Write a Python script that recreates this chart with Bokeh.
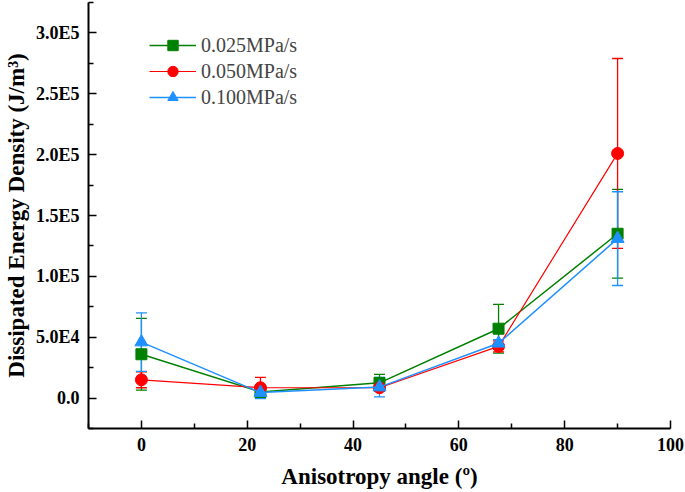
from bokeh.plotting import figure
from bokeh.models import ColumnDataSource, Whisker, TeeHead, FixedTicker, Legend, LegendItem, Range1d
from bokeh.embed import file_html
from bokeh.resources import INLINE

angles = [0, 22.5, 45, 67.5, 90]
series_names = ["0.025MPa/s", "0.050MPa/s", "0.100MPa/s"]
energy_025 = [36000, 5000, 12500, 57000, 135000]
err_025 = [29500, 2000, 7000, 20000, 36500]
energy_050 = [15000, 8500, 8500, 42500, 201000]
err_050 = [6500, 8500, 2000, 4500, 78000]
energy_100 = [46000, 4500, 9000, 45000, 131000]
err_100 = [24000, 5000, 8000, 3000, 38500]
colors = ["#008000", "#FF0000", "#1E90FF"]
markers = ["square", "circle", "triangle"]
marker_sizes = [11, 12, 13]
line_widths = [1.5, 1.2, 1.5]

x_ticks = [0, 20, 40, 60, 80, 100]
y_ticks = [0, 50000, 100000, 150000, 200000, 250000, 300000]
y_tick_labels = ["0.0", "5.0E4", "1.0E5", "1.5E5", "2.0E5", "2.5E5", "3.0E5"]

FONT = "Liberation Serif"

p = figure(width=685, height=492, output_backend="svg", toolbar_location=None,
           x_range=Range1d(-10, 100), y_range=Range1d(-25000, 325000),
           min_border_left=88, min_border_right=15, min_border_top=2, min_border_bottom=64)
p.outline_line_color = None
p.xgrid.visible = False
p.ygrid.visible = False
p.background_fill_color = "white"
p.border_fill_color = "white"

for ax in (p.xaxis[0], p.yaxis[0]):
    ax.axis_line_width = 2
    ax.axis_line_color = "black"
    ax.major_tick_in = 8
    ax.major_tick_out = 0
    ax.minor_tick_in = 5
    ax.minor_tick_out = 0
    ax.major_tick_line_width = 1.5
    ax.minor_tick_line_width = 1.5
    ax.major_label_text_font = FONT
    ax.major_label_text_font_style = "bold"
    ax.major_label_text_font_size = "18px"
    ax.major_label_text_color = "black"
    ax.axis_label_text_font = FONT
    ax.axis_label_text_font_style = "bold"
    ax.axis_label_text_font_size = "23px"
    ax.axis_label_text_color = "black"

p.xaxis.ticker = FixedTicker(ticks=x_ticks, minor_ticks=[-10, 10, 30, 50, 70, 90])
p.yaxis.ticker = FixedTicker(ticks=y_ticks, minor_ticks=[-25000, 25000, 75000, 125000, 175000, 225000, 275000, 325000])
p.yaxis.major_label_overrides = {t: l for t, l in zip(y_ticks, y_tick_labels)}
p.xaxis.major_label_standoff = 9
p.yaxis.major_label_standoff = 9
p.xaxis.axis_label = "Anisotropy angle (º)"
p.yaxis.axis_label = "Dissipated Energy Density (J/m³)"
p.xaxis.axis_label_standoff = 10
p.yaxis.axis_label_standoff = 4

items = []
for name, ys, es, c, m, ms, lw in zip(series_names, [energy_025, energy_050, energy_100],
                                      [err_025, err_050, err_100], colors, markers, marker_sizes, line_widths):
    src = ColumnDataSource(dict(x=angles, y=ys,
                                lo=[y - e for y, e in zip(ys, es)],
                                hi=[y + e for y, e in zip(ys, es)]))
    w = Whisker(source=src, base="x", upper="hi", lower="lo", line_color=c, line_width=1.3,
                upper_head=TeeHead(size=11, line_color=c, line_width=1.3),
                lower_head=TeeHead(size=11, line_color=c, line_width=1.3))
    p.add_layout(w)
    r1 = p.line("x", "y", source=src, line_color=c, line_width=lw)
    r2 = p.scatter("x", "y", source=src, marker=m, size=ms, fill_color=c, line_color=c)
    items.append(LegendItem(label=name, renderers=[r1, r2]))

legend = Legend(items=items, location=(61, 318), background_fill_alpha=0,
                border_line_color=None, glyph_width=47, glyph_height=26, spacing=0,
                label_standoff=5, label_text_font=FONT, label_text_font_size="20px",
                padding=2, margin=0)
p.add_layout(legend)

open("out.html", "w").write(file_html(p, INLINE))
